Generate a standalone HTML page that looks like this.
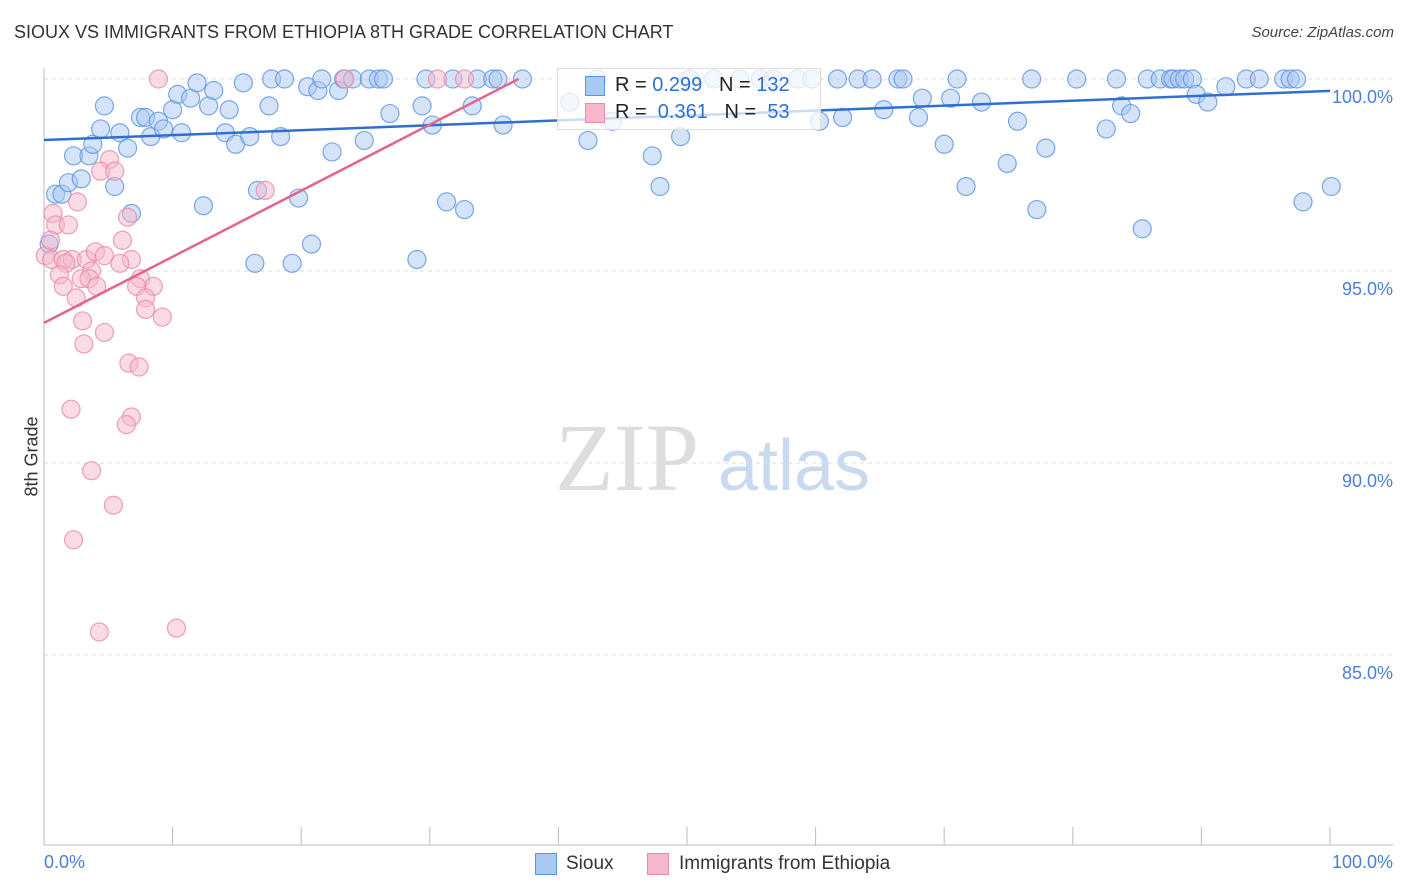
<!DOCTYPE html>
<html><head><meta charset="utf-8"><style>
body{margin:0;background:#fff;font-family:"Liberation Sans",sans-serif;}
#wrap{position:relative;width:1406px;height:892px;overflow:hidden;}
.t{position:absolute;white-space:nowrap;}
</style></head><body>
<div id="wrap">
<div class="t" style="left:14px;top:22px;font-size:18px;color:#333;">SIOUX VS IMMIGRANTS FROM ETHIOPIA 8TH GRADE CORRELATION CHART</div>
<div class="t" style="right:12px;top:24px;font-size:15px;color:#444;font-style:italic;">Source: ZipAtlas.com</div>
<div class="t" style="left:-8px;top:446px;font-size:18px;color:#333;transform:rotate(-90deg);">8th Grade</div>
<svg id="svg" width="1406" height="892" style="position:absolute;left:0;top:0"></svg>
</div>
<script>
const blueX=[0.9,1.4,1.9,2.3,2.9,3.5,3.8,4.4,4.7,5.5,5.9,6.5,6.8,7.5,7.9,8.3,8.9,9.3,10.0,10.4,10.7,11.4,11.9,12.4,12.8,13.2,14.1,14.4,14.9,15.5,16.0,16.4,16.6,17.5,17.7,18.4,18.7,19.3,19.8,20.5,20.8,21.3,21.6,22.4,22.9,23.3,24.0,24.9,25.3,26.0,26.4,26.9,29.0,29.4,29.7,30.2,31.3,31.8,32.7,33.3,33.7,34.9,35.3,35.7,37.2,40.9,42.3,43.0,44.2,47.3,47.9,49.5,50.2,52.1,54.1,55.7,56.7,58.6,59.7,60.3,61.7,62.1,63.3,64.4,65.3,66.4,66.8,68.0,68.3,70.0,70.5,71.0,71.7,72.9,74.9,75.7,76.8,77.2,77.9,80.3,82.6,83.4,83.8,84.5,85.4,85.8,86.8,87.6,87.8,88.3,88.7,89.3,89.6,90.5,91.9,93.5,94.5,96.4,96.9,97.4,97.9,100.1,0.4];
const blueY=[97.0,97.0,97.3,98.0,97.4,98.0,98.3,98.7,99.3,97.2,98.6,98.2,96.5,99.0,99.0,98.5,98.9,98.7,99.2,99.6,98.6,99.5,99.9,96.7,99.3,99.7,98.6,99.2,98.3,99.9,98.5,95.2,97.1,99.3,100,98.5,100,95.2,96.9,99.8,95.7,99.7,100,98.1,99.7,100,100,98.4,100,100,100,99.1,95.3,99.3,100,98.8,96.8,100,96.6,99.3,100,100,100,98.8,100,99.4,98.4,100,98.9,98.0,97.2,98.5,100,100,100,100,100,100,100,98.9,100,99.0,100,100,99.2,100,100,99.0,99.5,98.3,99.5,100,97.2,99.4,97.8,98.9,100,96.6,98.2,100,98.7,100,99.3,99.1,96.1,100,100,100,100,100,100,100,99.6,99.4,99.8,100,100,100,100,100,96.8,97.2,95.7];
const pinkX=[0.7,0.9,1.9,2.6,0.1,0.6,1.5,2.2,1.7,3.3,4.0,4.7,6.8,3.7,1.2,2.9,3.5,5.9,7.5,8.5,1.5,2.5,4.1,7.2,7.9,7.9,9.2,3.0,4.7,3.1,6.6,7.4,2.1,6.8,6.4,3.7,5.4,2.3,4.3,10.3,5.1,4.4,5.5,6.5,6.1,17.2,8.9,23.4,30.6,32.7,0.5];
const pinkY=[96.5,96.2,96.2,96.8,95.4,95.3,95.3,95.3,95.2,95.3,95.5,95.4,95.3,95.0,94.9,94.8,94.8,95.2,94.8,94.6,94.6,94.3,94.6,94.6,94.3,94.0,93.8,93.7,93.4,93.1,92.6,92.5,91.4,91.2,91.0,89.8,88.9,88.0,85.6,85.7,97.9,97.6,97.6,96.4,95.8,97.1,100,100,100,100,95.8];
const blueTrendX=[0,100], blueTrendY=[98.41,99.69];
const pinkTrendX=[0,36.9], pinkTrendY=[93.65,100];
const yTicks=[100,95,90,85];
const yTickLabels=["100.0%","95.0%","90.0%","85.0%"];
const xTicks=[0,10,20,30,40,50,60,70,80,90,100];

const NS="http://www.w3.org/2000/svg";
const svg=document.getElementById('svg');
const X=v=>44+v*12.86, Y=v=>79+(100-v)*38.4;
function mk(tag,attrs,parent){const e=document.createElementNS(NS,tag);for(const k in attrs)e.setAttribute(k,attrs[k]);(parent||svg).appendChild(e);return e;}
// watermark
let wm=mk('text',{x:555,y:490,'font-family':'Liberation Serif,serif','font-size':96,fill:'#ddd'});wm.textContent='ZIP';


let wm2=mk('text',{x:718,y:490,'font-family':'Liberation Sans,sans-serif','font-size':72,fill:'#c9d9ef'});wm2.textContent='atlas';


yTicks.forEach((t,i)=>{
 const g=mk('line',{x1:44,x2:1393,y1:Y(t),y2:Y(t),stroke:'#ddd','stroke-dasharray':'4,4'});
 
 
 const l=mk('text',{x:1393,y:Y(t)+24,'text-anchor':'end','font-size':18,fill:'#4a7fd6','font-family':'Liberation Sans,sans-serif'});
 l.textContent=yTickLabels[i];
 
 
});
let ax=mk('line',{x1:44,x2:44,y1:68,y2:845,stroke:'#bbb'});


let bx=mk('line',{x1:44,x2:1393,y1:845,y2:845,stroke:'#bbb'});


xTicks.forEach(t=>{const tk=mk('line',{x1:X(t),x2:X(t),y1:827,y2:845,stroke:'#bbb'});
 
 });
function dots(xs,ys,fill,stroke,name){xs.forEach((x,i)=>{const c=mk('circle',{cx:X(x),cy:Y(ys[i]),r:9,fill:fill,'fill-opacity':0.5,stroke:stroke,'stroke-opacity':0.8,'stroke-width':1.2});
 
 });}
dots(blueX,blueY,'#a9c8f2','#5b93de','sioux-point');
dots(pinkX,pinkY,'#f6b8ca','#e98aa8','ethiopia-point');
let bl=mk('line',{x1:X(blueTrendX[0]),y1:Y(blueTrendY[0]),x2:X(blueTrendX[1]),y2:Y(blueTrendY[1]),stroke:'#2f6fd0','stroke-width':2.5});


let pl=mk('line',{x1:X(pinkTrendX[0]),y1:Y(pinkTrendY[0]),x2:X(pinkTrendX[1]),y2:Y(pinkTrendY[1]),stroke:'#e3658f','stroke-width':2.5});


</script>
<div class="t" style="left:557px;top:68px;width:262px;height:60px;border:1px solid #ddd;background:rgba(255,255,255,0.75);"></div>
<div class="t" style="left:585px;top:76px;width:18px;height:18px;background:#a9c8f2;border:1px solid #5b93de;"></div>
<div class="t" style="left:615px;top:74px;font-size:20px;color:#222;">R = <span style="color:#2f6fd0">0.299</span>&nbsp;&nbsp;&nbsp;N = <span style="color:#2f6fd0">132</span></div>
<div class="t" style="left:585px;top:103px;width:18px;height:18px;background:#f6b8ca;border:1px solid #e98aa8;"></div>
<div class="t" style="left:615px;top:101px;font-size:20px;color:#222;">R = &nbsp;<span style="color:#2f6fd0">0.361</span>&nbsp;&nbsp;&nbsp;N = &nbsp;<span style="color:#2f6fd0">53</span></div>
<div class="t" style="left:44px;top:852px;font-size:18px;color:#4a7fd6;">0.0%</div>
<div class="t" style="right:13px;top:852px;font-size:18px;color:#4a7fd6;">100.0%</div>
<div class="t" style="left:535px;top:853px;width:20px;height:20px;background:#a9c8f2;border:1px solid #5b93de;"></div>
<div class="t" style="left:566px;top:853px;font-size:19px;color:#333;">Sioux</div>
<div class="t" style="left:647px;top:853px;width:20px;height:20px;background:#f6b8ca;border:1px solid #e98aa8;"></div>
<div class="t" style="left:679px;top:853px;font-size:19px;color:#333;">Immigrants from Ethiopia</div>
</body></html>
